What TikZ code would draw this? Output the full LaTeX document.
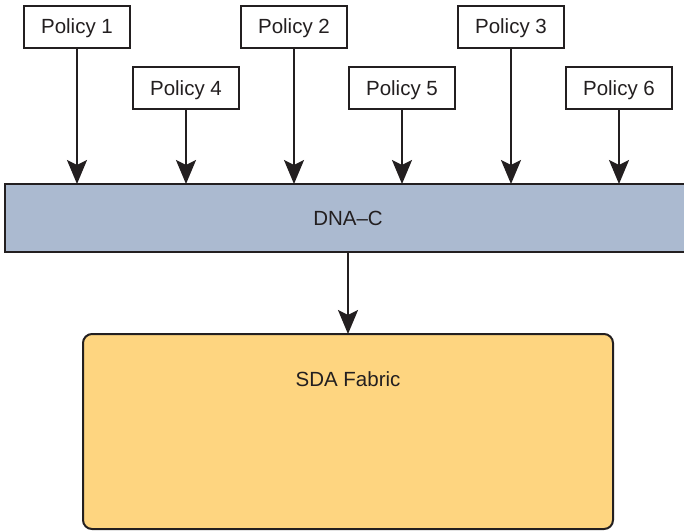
\documentclass[tikz,border=0pt]{standalone}
\usepackage{fontspec}
\setmainfont{Liberation Sans}
\usetikzlibrary{arrows.meta}
\definecolor{dnablue}{HTML}{ABBAD0}
\definecolor{sdaorange}{HTML}{FED580}
\definecolor{ink}{HTML}{231F20}
\begin{document}
\begin{tikzpicture}[x=1pt,y=-1pt,
  policybox/.style={draw=ink,line width=2pt,fill=white,minimum width=106pt,minimum height=42pt,inner sep=0pt,text height=14.5pt,text depth=0pt,font=\fontsize{20.5}{24}\selectfont,text=ink},
  conn/.style={draw=ink,line width=2pt,-{Stealth[length=24pt,width=20pt,inset=5pt]}},
  lbl/.style={font=\fontsize{20.5}{24}\selectfont,text=ink,text height=14.5pt,text depth=0pt,inner sep=0pt}]
\useasboundingbox (0,0) rectangle (684,531);
\node[policybox] (p1) at (77,26.5) {Policy 1};
\node[policybox] (p2) at (294,26.5) {Policy 2};
\node[policybox] (p3) at (511,26.5) {Policy 3};
\node[policybox] (p4) at (186,88) {Policy 4};
\node[policybox] (p5) at (402,88) {Policy 5};
\node[policybox] (p6) at (619,88) {Policy 6};
\path[draw=ink,line width=2pt,fill=dnablue] (5,184) rectangle (686,252);
\node[lbl] (dna) at (348,218) {DNA–C};
\path[draw=ink,line width=2pt,fill=sdaorange,rounded corners=9pt] (83,334) rectangle (613,529);
\node[lbl] (sda) at (348,379) {SDA Fabric};
\coordinate (d1) at (77,184);
\coordinate (d2) at (294,184);
\coordinate (d3) at (511,184);
\coordinate (d4) at (186,184);
\coordinate (d5) at (402,184);
\coordinate (d6) at (619,184);
\coordinate (dbot) at (348,252);
\coordinate (stop) at (348,334);
\draw[conn] (p1.south) -- (d1);
\draw[conn] (p2.south) -- (d2);
\draw[conn] (p3.south) -- (d3);
\draw[conn] (p4.south) -- (d4);
\draw[conn] (p5.south) -- (d5);
\draw[conn] (p6.south) -- (d6);
\draw[conn] (dbot) -- (stop);
\end{tikzpicture}
\end{document}
